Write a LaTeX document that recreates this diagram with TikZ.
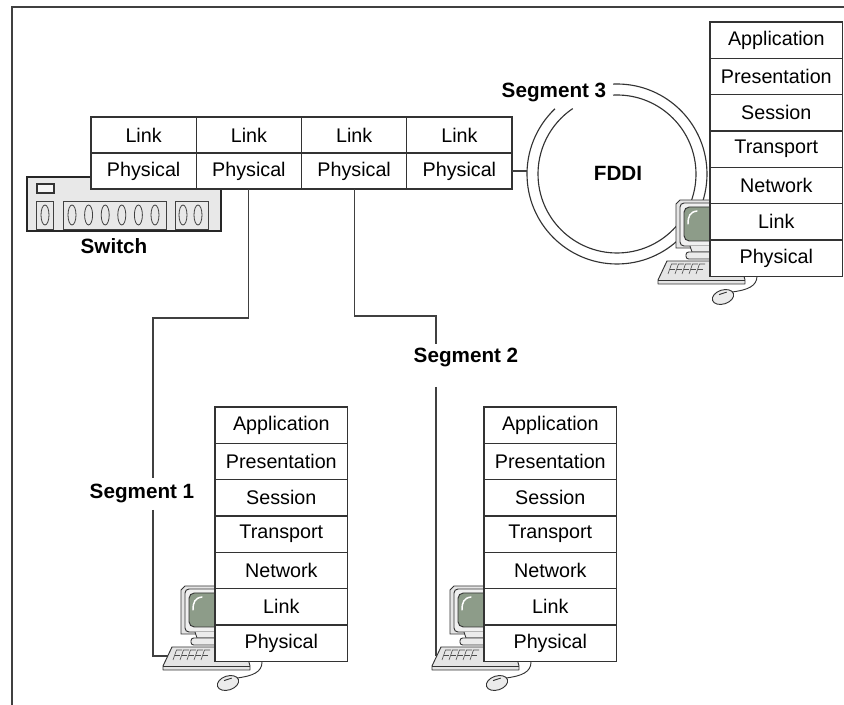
\documentclass[tikz,border=0pt]{standalone}
\usepackage{fontspec}
\setmainfont{Liberation Sans}
\begin{document}
\begin{tikzpicture}[x=0.75pt, y=-0.75pt,
  frameline/.style={draw=black!75, line width=1.1pt},
  wire/.style={draw=black!75, line width=0.85pt},
  ringline/.style={draw=black!80, line width=0.85pt},
  layer/.style={draw=black!80, line width=0.9pt, fill=white, inner sep=0pt, outer sep=0pt,
    minimum width=99.5pt, minimum height=27.25pt, font=\fontsize{14.8}{16}\selectfont},
  cell/.style={layer, minimum width=78.94pt, minimum height=27pt},
  tag/.style={font=\bfseries\fontsize{15.5}{17}\selectfont, inner sep=0pt},
  pcline/.style={draw=black!80, line width=0.7pt},
  keyline/.style={draw=black!70, line width=0.45pt},
  pc/.pic={
    % monitor casing
    \draw[pcline, fill=black!10] (-34,-72) -- (-30,-76) -- (18,-76) -- (18,-28) -- (-34,-28) -- cycle;
    \draw[pcline, fill=black!6, rounded corners=3pt] (-30,-73) rectangle (18,-30);
    % screen
    \draw[pcline, fill=scr, rounded corners=4pt] (-26,-69) rectangle (18,-35);
    \draw[draw=white, line width=1.1pt, line cap=round] (-22,-52) .. controls (-22,-60) and (-20,-64) .. (-13,-65);
    % stand
    \draw[pcline, fill=black!8] (-20,-30) -- (-18,-24) -- (18,-24) -- (18,-30);
    \draw[pcline, fill=black!8, rounded corners=2pt] (-24,-24) rectangle (18,-17);
    % keyboard
    \draw[pcline, fill=black!10, line join=round] (-43,-15) -- (30,-15) -- (35,4) -- (35,8) -- (-52,8) -- (-52,4) -- cycle;
    \draw[pcline] (-52,4) -- (35,4);
    \foreach \i in {0,...,4} {
      \draw[keyline] ({-42+7*\i},-2) -- ({-38.5+7*\i},-12) -- ({-33+7*\i},-12);
      \draw[keyline] ({-40.3+7*\i},-7) -- ({-35+7*\i},-7);
    }
    % mouse and cable
    \draw[pcline] (22,16) .. controls (38,14) and (47,10) .. (47,0);
    \draw[pcline, fill=black!8, rotate around={18:(13,21)}] (13,21) ellipse [x radius=11, y radius=7];
    \draw[pcline, rotate around={18:(13,21)}] (10,17.5) -- (18,17.5);
  }]
\definecolor{scr}{RGB}{141,156,137}
\useasboundingbox (0,0) rectangle (844,705);

% page frame
\draw[frameline] (844,7) -- (12,7) -- (12,705);

% FDDI ring
\coordinate (ringc) at (617,174);
\draw[ringline] (ringc) ++(267.5:90) arc[start angle=267.5, end angle=586.4, radius=90];
\draw[ringline] (ringc) ++(267.1:79) arc[start angle=267.1, end angle=595.9, radius=79];
\coordinate (ringw) at (527,171);
\node[tag] (fddi) at (618,173) {FDDI};
\node[tag] (seg3) at (554,92) {Segment 3};

% switch
\node[draw=black!85, line width=1.6pt, fill=black!9, anchor=north west, inner sep=0pt,
  minimum width=145.5pt, minimum height=40.5pt] (sw) at (26,176) {};
\draw[draw=black!80, line width=0.9pt, fill=black!4] (37,184) rectangle (54,193);
\draw[draw=black!75, line width=0.7pt] (36,201) rectangle (53,229);
\draw[draw=black!75, line width=0.7pt] (63,201) rectangle (166,229);
\draw[draw=black!75, line width=0.7pt] (175,201) rectangle (208,229);
\foreach \cx in {45,72,88.6,105.2,121.8,138.4,155,183,198}
  \draw[draw=black!75, line width=0.6pt] (\cx,215) ellipse [x radius=4, y radius=10];
\node[tag] (swname) at (114,246) {Switch};

% switch ports
\node[cell, anchor=north west] (l1) at (91,117) {Link};
\node[cell, anchor=north] (p1) at (l1.south) {Physical};
\node[cell, anchor=north west] (l2) at (l1.north east) {Link};
\node[cell, anchor=north] (p2) at (l2.south) {Physical};
\node[cell, anchor=north west] (l3) at (l2.north east) {Link};
\node[cell, anchor=north] (p3) at (l3.south) {Physical};
\node[cell, anchor=north west] (l4) at (l3.north east) {Link};
\node[cell, anchor=north] (p4) at (l4.south) {Physical};

% segment wiring
\draw[wire] (p4.east) -- (ringw);
\coordinate (s1top) at (153,478);
\coordinate (s1bot) at (153,510);
\coordinate (s1end) at (172,656);
\draw[wire] (p2.south) |- (153,318) -- (s1top);
\draw[wire] (s1bot) |- (s1end);
\node[tag] (seg1) at (142,493) {Segment 1};
\coordinate (s2top) at (436,344);
\coordinate (s2bot) at (436,387);
\coordinate (s2end) at (446,655);
\draw[wire] (p3.south) |- (436,316) -- (s2top);
\draw[wire] (s2bot) |- (s2end);
\node[tag] (seg2) at (466,357) {Segment 2};

% workstations
\pic at (710,276) {pc};
\pic at (215,662) {pc};
\pic at (484,662) {pc};

% protocol stacks
\foreach \nm/\px/\py in {ws3/710/22, ws1/215/407, ws2/484/407} {
  \node[layer, anchor=north west] (\nm-7) at (\px,\py) {Application};
  \node[layer, anchor=north] (\nm-6) at (\nm-7.south) {Presentation};
  \node[layer, anchor=north] (\nm-5) at (\nm-6.south) {Session};
  \node[layer, anchor=north] (\nm-4) at (\nm-5.south) {Transport};
  \node[layer, anchor=north] (\nm-3) at (\nm-4.south) {Network};
  \node[layer, anchor=north] (\nm-2) at (\nm-3.south) {Link};
  \node[layer, anchor=north] (\nm-1) at (\nm-2.south) {Physical};
}
\end{tikzpicture}
\end{document}
